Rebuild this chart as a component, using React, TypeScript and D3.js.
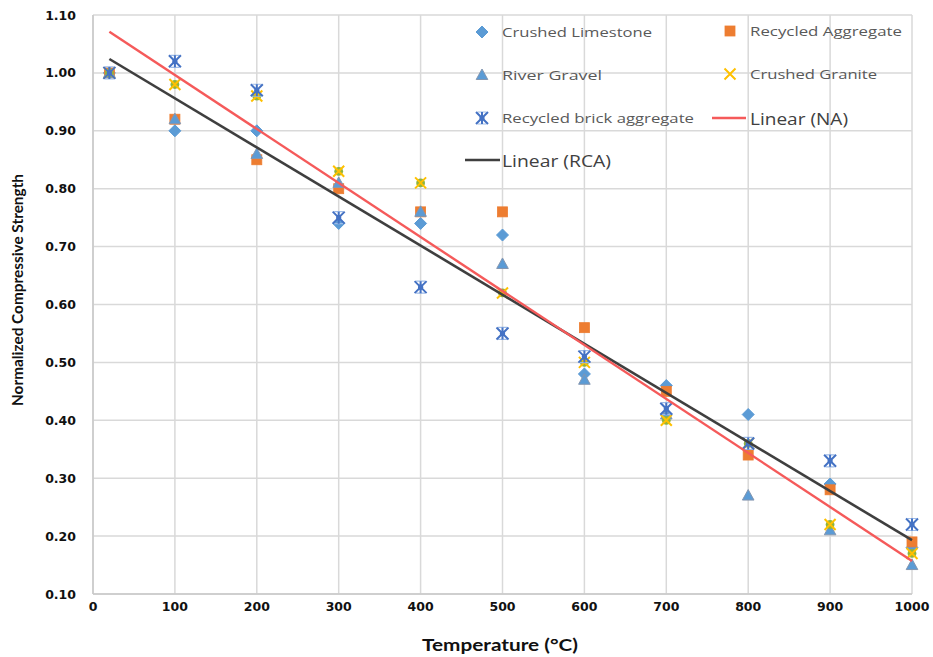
import React from "react";
import * as d3 from "d3";

const temps = [20, 100, 200, 300, 400, 500, 600, 700, 800, 900, 1000];
const limestone = [1.0, 0.9, 0.9, 0.74, 0.74, 0.72, 0.48, 0.46, 0.41, 0.29, 0.18];
const recycledAgg = [1.0, 0.92, 0.85, 0.8, 0.76, 0.76, 0.56, 0.45, 0.34, 0.28, 0.19];
const riverGravel = [1.0, 0.92, 0.86, 0.81, 0.76, 0.67, 0.47, 0.41, 0.27, 0.21, 0.15];
const granite = [1.0, 0.98, 0.96, 0.83, 0.81, 0.62, 0.5, 0.4, 0.36, 0.22, 0.17];
const brick = [1.0, 1.02, 0.97, 0.75, 0.63, 0.55, 0.51, 0.42, 0.36, 0.33, 0.22];

// trend line end points (temperature, strength)
const trendNA: [number, number][] = [[20, 1.071], [1000, 0.157]];
const trendRCA: [number, number][] = [[20, 1.024], [1000, 0.193]];

const xTicks = [0, 100, 200, 300, 400, 500, 600, 700, 800, 900, 1000];
const yTicks = [0.1, 0.2, 0.3, 0.4, 0.5, 0.6, 0.7, 0.8, 0.9, 1.0, 1.1];

type Shape = "diamond" | "square" | "triangle" | "x" | "star";

const series: { name: string; values: number[]; shape: Shape }[] = [
  { name: "Crushed Limestone", values: limestone, shape: "diamond" },
  { name: "Recycled Aggregate", values: recycledAgg, shape: "square" },
  { name: "River Gravel", values: riverGravel, shape: "triangle" },
  { name: "Crushed Granite", values: granite, shape: "x" },
  { name: "Recycled brick aggregate", values: brick, shape: "star" },
];

function Marker({ shape, cx, cy, legend }: { shape: Shape; cx: number; cy: number; legend?: boolean }) {
  switch (shape) {
    case "diamond":
      return (
        <path
          d={`M${cx},${cy - 6}L${cx + 6},${cy}L${cx},${cy + 6}L${cx - 6},${cy}Z`}
          fill="#5b9bd5"
          stroke="#5b9bd5"
          strokeWidth={1}
        />
      );
    case "square":
      return <rect x={cx - 5} y={cy - 5} width={10} height={10} fill="#ed7d31" stroke="#ed7d31" strokeWidth={0.8} />;
    case "triangle":
      return (
        <path
          d={`M${cx},${cy - 6}L${cx + 5.8},${cy + 4.5}L${cx - 5.8},${cy + 4.5}Z`}
          fill="#5b9bd5"
          stroke="#8496b0"
          strokeWidth={1}
        />
      );
    case "x":
      return (
        <g>
          {!legend && <circle cx={cx} cy={cy} r={4.4} fill="#8fb43e" />}
          <path
            d={`M${cx - 5.5},${cy - 5.5}L${cx + 5.5},${cy + 5.5}M${cx + 5.5},${cy - 5.5}L${cx - 5.5},${cy + 5.5}`}
            stroke="#ffc000"
            strokeWidth={2}
            fill="none"
          />
        </g>
      );
    case "star":
      return (
        <g fill="none">
          <path d={`M${cx - 4.5},${cy - 6}L${cx + 4.5},${cy - 6}M${cx - 4.5},${cy + 6}L${cx + 4.5},${cy + 6}`} strokeWidth={1.2} stroke="#9dbbe8" />
          <path
            d={`M${cx - 6},${cy - 6}L${cx + 6},${cy + 6}M${cx + 6},${cy - 6}L${cx - 6},${cy + 6}M${cx},${cy - 6}L${cx},${cy + 6}`}
            strokeWidth={2}
            stroke="#4472c4"
          />
          <circle cx={cx} cy={cy} r={2.6} fill="#4472c4" />
        </g>
      );
  }
}

export default function App() {
  const W = 933;
  const H = 657;
  const x = d3.scaleLinear().domain([0, 1000]).range([93, 912]);
  const y = d3.scaleLinear().domain([0.1, 1.1]).range([594, 15]);
  const line = d3
    .line<[number, number]>()
    .x((d) => x(d[0]))
    .y((d) => y(d[1]));

  const legendText = { fontFamily: "Open Sans, sans-serif", fontSize: 13.5, fill: "#595959" };
  const legendBig = { fontFamily: "Open Sans, sans-serif", fontSize: 16.5, fill: "#404040" };

  const legendItems = [
    { shape: "diamond" as Shape, mx: 482, ty: 32, tx: 502, label: "Crushed Limestone", len: 150 },
    { shape: "square" as Shape, mx: 730, ty: 31, tx: 750, label: "Recycled Aggregate", len: 152 },
    { shape: "triangle" as Shape, mx: 482, ty: 75, tx: 502, label: "River Gravel", len: 100 },
    { shape: "x" as Shape, mx: 730, ty: 74, tx: 750, label: "Crushed Granite", len: 127 },
    { shape: "star" as Shape, mx: 482, ty: 118, tx: 502, label: "Recycled brick aggregate", len: 192 },
  ];

  return (
    <svg width={W} height={H} style={{ position: "absolute", left: 0, top: 0, background: "#fff" }}>
      {/* grid */}
      <g stroke="#d9d9d9" strokeWidth={1.5}>
        {yTicks.map((t) => (
          <line key={"gy" + t} x1={x(0)} x2={x(1000)} y1={y(t)} y2={y(t)} />
        ))}
        {xTicks.map((t) => (
          <line key={"gx" + t} x1={x(t)} x2={x(t)} y1={y(1.1)} y2={y(0.1)} />
        ))}
      </g>
      <line x1={x(0)} x2={x(0)} y1={y(1.1)} y2={y(0.1)} stroke="#c8c8c8" strokeWidth={1.5} />
      <line x1={x(0)} x2={x(1000)} y1={y(0.1)} y2={y(0.1)} stroke="#c8c8c8" strokeWidth={1.5} />

      {/* tick labels */}
      <g fontFamily="DejaVu Sans, sans-serif" fontWeight="bold" fontSize={12.5} fill="#111">
        {yTicks.map((t) => (
          <text key={"ty" + t} x={76} y={y(t)} textAnchor="end" dominantBaseline="central">
            {t.toFixed(2)}
          </text>
        ))}
        {xTicks.map((t) => (
          <text key={"tx" + t} x={x(t)} y={606} textAnchor="middle" dominantBaseline="central">
            {t}
          </text>
        ))}
      </g>

      {/* axis titles */}
      <text
        x={500}
        y={651}
        textAnchor="middle"
        fontFamily="Lato, sans-serif"
        fontWeight="bold"
        fontSize={17}
        fill="#111"
        textLength={156}
        lengthAdjust="spacingAndGlyphs"
      >
        Temperature (°C)
      </text>
      <text
        transform={`translate(23,290) rotate(-90)`}
        textAnchor="middle"
        fontFamily="Lato, sans-serif"
        fontWeight="bold"
        fontSize={15}
        fill="#111"
        textLength={232}
        lengthAdjust="spacingAndGlyphs"
      >
        Normalized Compressive Strength
      </text>

      {/* data markers */}
      {series.map((s) => (
        <g key={s.name}>
          {s.values.map((v, i) => (
            <Marker key={i} shape={s.shape} cx={x(temps[i])} cy={y(v)} />
          ))}
        </g>
      ))}

      {/* trend lines */}
      <path d={line(trendRCA) || ""} stroke="#3f3f3f" strokeWidth={2.6} fill="none" />
      <path d={line(trendNA) || ""} stroke="#f55a5a" strokeWidth={2.4} fill="none" />

      {/* legend */}
      {legendItems.map((it) => (
        <g key={it.label}>
          <Marker shape={it.shape} cx={it.mx} cy={it.ty} legend />
          <text x={it.tx} y={it.ty} dominantBaseline="central" {...legendText} textLength={it.len} lengthAdjust="spacingAndGlyphs">
            {it.label}
          </text>
        </g>
      ))}
      <line x1={712} x2={746} y1={118} y2={118} stroke="#f55a5a" strokeWidth={2.4} />
      <text x={750} y={118} dominantBaseline="central" {...legendBig} textLength={98} lengthAdjust="spacingAndGlyphs">
        Linear (NA)
      </text>
      <line x1={465} x2={500} y1={160} y2={160} stroke="#3f3f3f" strokeWidth={2.6} />
      <text x={502} y={160} dominantBaseline="central" {...legendBig} textLength={109} lengthAdjust="spacingAndGlyphs">
        Linear (RCA)
      </text>
    </svg>
  );
}
